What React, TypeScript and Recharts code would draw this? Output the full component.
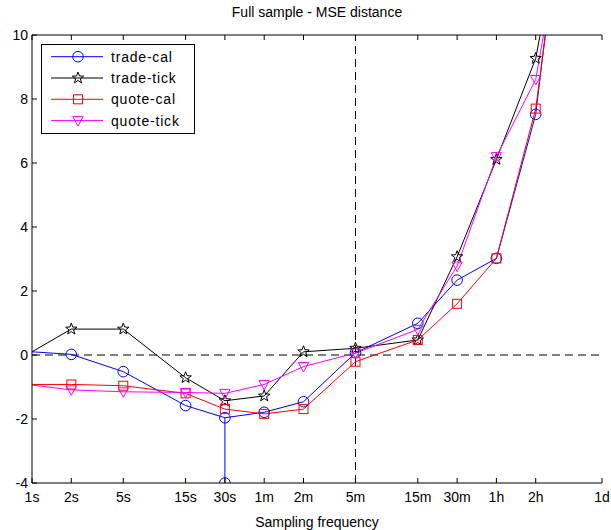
import { LineChart, Line, XAxis, YAxis, ReferenceLine, Legend } from "recharts";

const FONT = '"Liberation Sans", Arial, sans-serif';

// sampling interval in seconds (last one is where the "1d" tick sits on the axis)
const sampling = [1, 2, 5, 15, 30, 60, 120, 300, 900, 1800, 3600, 7200, 23170];
const samplingLabels = ["1s", "2s", "5s", "15s", "30s", "1m", "2m", "5m", "15m", "30m", "1h", "2h", "1d"];

const tradeCal = [0.1, 0.02, -0.52, -1.58, -1.96, -1.79, -1.46, 0.07, 0.99, 2.34, 3.02, 7.52, 24.9];
const tradeTick = [0.1, 0.81, 0.81, -0.71, -1.43, -1.28, 0.1, 0.21, 0.47, 3.07, 6.11, 9.27, 20.3];
const quoteCal = [-0.92, -0.92, -0.96, -1.2, -1.69, -1.84, -1.69, -0.21, 0.47, 1.6, 3.02, 7.7, 23.3];
const quoteTick = [-0.94, -1.09, -1.15, -1.17, -1.2, -0.92, -0.36, 0.06, 0.8, 2.78, 6.2, 8.61, 20.5];

// the trade-cal drop at 30s down to the bottom of the axis
const tradeCalDropSec = [30, 30];
const tradeCalDropVal = [-1.96, -4];

const yTicks = [-4, -2, 0, 2, 4, 6, 8, 10];

const rows = sampling.map((sec, i) => ({
    sec,
    tradeCal: tradeCal[i],
    tradeTick: tradeTick[i],
    quoteCal: quoteCal[i],
    quoteTick: quoteTick[i],
}));

const dropRows = tradeCalDropSec.map((sec, i) => ({ sec, tradeCal: tradeCalDropVal[i] }));

const series = [
    { key: "tradeCal", name: "trade-cal", color: "#0000ff", shape: "circle" },
    { key: "tradeTick", name: "trade-tick", color: "#000000", shape: "star" },
    { key: "quoteCal", name: "quote-cal", color: "#ff0000", shape: "square" },
    { key: "quoteTick", name: "quote-tick", color: "#ff00ff", shape: "triangle" },
];

const starPoints = (cx: number, cy: number) => {
    const pts: string[] = [];
    for (let k = 0; k < 10; k++) {
        const r = k % 2 === 0 ? 6 : 2.5;
        const a = -Math.PI / 2 + (k * Math.PI) / 5;
        pts.push(`${cx + r * Math.cos(a)},${cy + r * Math.sin(a)}`);
    }
    return pts.join(" ");
};

const Marker = ({ shape, cx, cy, color }: any) => {
    if (shape === "circle")
        return <circle cx={cx} cy={cy} r={5.3} fill="none" stroke={color} strokeWidth={1} />;
    if (shape === "square")
        return <rect x={cx - 4.5} y={cy - 4.5} width={9} height={9} fill="none" stroke={color} strokeWidth={1} />;
    if (shape === "triangle")
        return (
            <polygon
                points={`${cx - 5.2},${cy - 4} ${cx + 5.2},${cy - 4} ${cx},${cy + 5.5}`}
                fill="none"
                stroke={color}
                strokeWidth={1}
            />
        );
    return <polygon points={starPoints(cx, cy)} fill="none" stroke={color} strokeWidth={1} />;
};

const makeDot = (shape: string, color: string, lastIndex: number) => (props: any) => {
    const { cx, cy, index } = props;
    if (index === 0 || index === lastIndex || cx == null || cy == null) return <g key={index} />;
    return (
        <g key={index}>
            <Marker shape={shape} cx={cx} cy={cy} color={color} />
        </g>
    );
};

const BottomTick = (props: any) => {
    const { x, y, payload } = props;
    const i = sampling.indexOf(payload.value);
    return (
        <g>
            <line x1={x} y1={y} x2={x} y2={y - 5} stroke="#000" />
            <text x={x} y={y + 14} textAnchor="middle" dominantBaseline="central" fontSize={14} fontFamily={FONT} fill="#000">
                {samplingLabels[i]}
            </text>
        </g>
    );
};

const TopTick = (props: any) => {
    const { x, y } = props;
    return <line x1={x} y1={y} x2={x} y2={y + 5} stroke="#000" />;
};

const LeftTick = (props: any) => {
    const { x, y, payload } = props;
    return (
        <g>
            <line x1={x} y1={y} x2={x + 5} y2={y} stroke="#000" />
            <text x={x - 4} y={y} textAnchor="end" dominantBaseline="central" fontSize={14} fontFamily={FONT} fill="#000">
                {payload.value}
            </text>
        </g>
    );
};

const RightTick = (props: any) => {
    const { x, y } = props;
    return <line x1={x} y1={y} x2={x - 5} y2={y} stroke="#000" />;
};

const LegendBox = () => (
    <svg width={155} height={91} style={{ display: "block" }}>
        <rect x={0.5} y={0.5} width={153} height={89} fill="#fff" stroke="#000" />
        {series.map((s, i) => {
            const cy = 12.7 + i * 21.3;
            return (
                <g key={s.key}>
                    <line x1={10} y1={cy} x2={62} y2={cy} stroke={s.color} />
                    <Marker shape={s.shape} cx={37} cy={cy} color={s.color} />
                    <text
                        x={70}
                        y={cy}
                        dominantBaseline="central"
                        fontSize={14}
                        letterSpacing={0.8}
                        fontFamily={FONT}
                        fill="#000"
                    >
                        {s.name}
                    </text>
                </g>
            );
        })}
    </svg>
);

const App = () => {
    const last = rows.length - 1;
    return (
        <div style={{ position: "absolute", left: 0, top: 0, background: "#fff" }}>
            <LineChart
                width={611}
                height={530}
                data={rows}
                margin={{ top: 0, right: 9, bottom: 0, left: 0 }}
                style={{ fontFamily: FONT }}
            >
                <XAxis
                    dataKey="sec"
                    type="number"
                    scale="log"
                    domain={[1, 23170]}
                    ticks={sampling}
                    interval={0}
                    allowDataOverflow
                    height={47}
                    tickSize={0}
                    tickMargin={0}
                    tick={<BottomTick />}
                    axisLine={{ stroke: "#000" }}
                    label={{ value: "Sampling frequency", position: "insideBottom", offset: 3, fontSize: 14, fontFamily: FONT, fill: "#000" }}
                />
                <XAxis
                    xAxisId="top"
                    orientation="top"
                    dataKey="sec"
                    type="number"
                    scale="log"
                    domain={[1, 23170]}
                    ticks={sampling}
                    interval={0}
                    allowDataOverflow
                    height={35}
                    tickSize={0}
                    tickMargin={0}
                    tick={<TopTick />}
                    axisLine={{ stroke: "#000" }}
                    label={{ value: "Full sample - MSE distance", position: "insideTop", offset: 7, fontSize: 14, fontFamily: FONT, fill: "#000" }}
                />
                <YAxis
                    type="number"
                    domain={[-4, 10]}
                    ticks={yTicks}
                    interval={0}
                    allowDataOverflow
                    width={32}
                    tickSize={0}
                    tickMargin={0}
                    tick={<LeftTick />}
                    axisLine={{ stroke: "#000" }}
                />
                <YAxis
                    yAxisId="right"
                    orientation="right"
                    type="number"
                    domain={[-4, 10]}
                    ticks={yTicks}
                    interval={0}
                    allowDataOverflow
                    width={0}
                    tickSize={0}
                    tickMargin={0}
                    tick={<RightTick />}
                    axisLine={{ stroke: "#000" }}
                />
                <ReferenceLine y={0} stroke="#000" strokeDasharray="8 5" />
                <ReferenceLine x={300} stroke="#000" strokeDasharray="8 5" />
                <Line
                    data={dropRows}
                    dataKey="tradeCal"
                    stroke="#0000ff"
                    strokeWidth={1}
                    dot={makeDot("circle", "#0000ff", -1)}
                    legendType="none"
                    isAnimationActive={false}
                />
                {series.map((s) => (
                    <Line
                        key={s.key}
                        type="linear"
                        dataKey={s.key}
                        name={s.name}
                        stroke={s.color}
                        strokeWidth={1}
                        dot={makeDot(s.shape, s.color, last)}
                        activeDot={false}
                        isAnimationActive={false}
                    />
                ))}
                <Legend
                    layout="horizontal"
                    verticalAlign="middle"
                    align="center"
                    content={() => <LegendBox />}
                    wrapperStyle={{ left: 41, top: 44, width: 155, height: 91 }}
                />
            </LineChart>
        </div>
    );
};

export default App;
